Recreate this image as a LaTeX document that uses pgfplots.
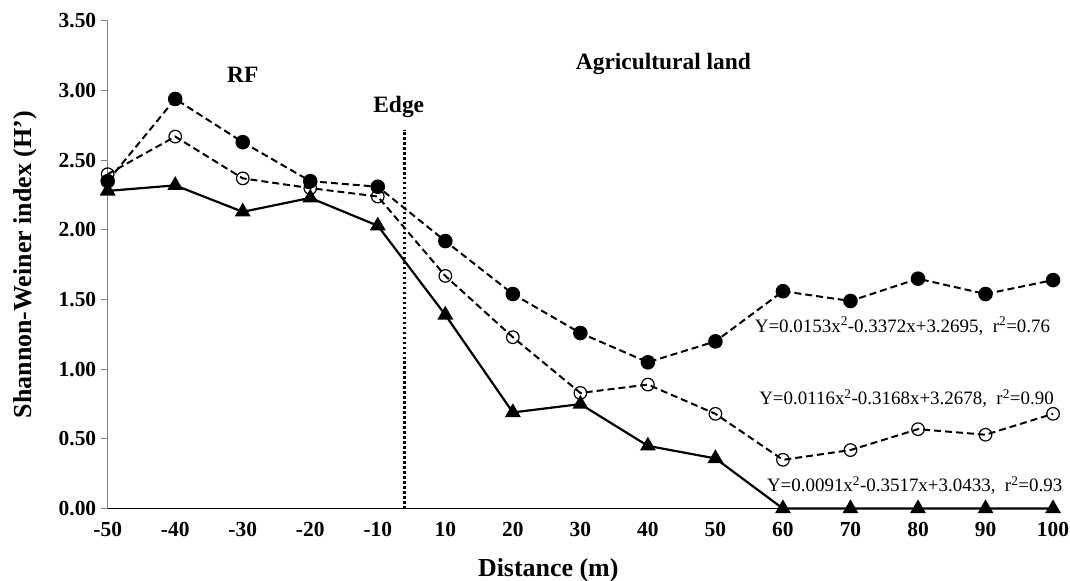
\documentclass[border=0pt]{standalone}
\usepackage{fontspec}
\setmainfont{Liberation Serif}
\usepackage{graphicx}
\usepackage{pgfplots}
\pgfplotsset{compat=1.18}
\begin{document}
\begin{tikzpicture}
\path[use as bounding box] (-108pt,-72pt) rectangle (965pt,510pt);
\begin{axis}[
  scale only axis, width=948pt, height=489pt,
  at={(0,0)}, anchor=south west,
  xmin=0, xmax=14, ymin=0, ymax=3.5,
  axis x line*=bottom, axis y line*=left,
  x axis line style={black, line width=1.3pt},
  y axis line style={gray, line width=1pt},
  xtick={0,...,14},
  xticklabels={-50,-40,-30,-20,-10,10,20,30,40,50,60,70,80,90,100},
  xtick style={draw=none},
  ytick={0,0.5,...,3.5},
  ytick style={gray, line width=1pt},
  major tick length=7pt,
  tick align=outside,
  yticklabel style={/pgf/number format/fixed, /pgf/number format/fixed zerofill, /pgf/number format/precision=2, xshift=-1pt},
  xticklabel style={yshift=-3pt},
  /pgf/number format/assume math mode=true,
  ticklabel style={font=\fontsize{21.5}{25}\selectfont\bfseries},
  xlabel={Distance (m)},
  ylabel={Shannon-Weiner index (H’)},
  label style={font=\fontsize{26}{30}\selectfont\bfseries},
  xlabel style={at={(axis description cs:0.466,-0.139)}, anchor=base},
  ylabel style={at={(axis description cs:-0.0802,0.5)}, anchor=base},
  clip=false,
]
\addplot[black, line width=2pt, dash pattern=on 7pt off 4pt, mark=*, mark size=6.3pt, mark options={solid, fill=black}]
coordinates {(0,2.35)(1,2.94)(2,2.63)(3,2.35)(4,2.31)(5,1.92)(6,1.54)(7,1.26)(8,1.05)(9,1.20)(10,1.56)(11,1.49)(12,1.65)(13,1.54)(14,1.64)};
\addplot[black, line width=2pt, dash pattern=on 7pt off 4pt, mark=o, mark size=6.3pt, mark options={solid, fill=white, line width=1.2pt}]
coordinates {(0,2.40)(1,2.67)(2,2.37)(3,2.30)(4,2.24)(5,1.67)(6,1.23)(7,0.83)(8,0.89)(9,0.68)(10,0.35)(11,0.42)(12,0.57)(13,0.53)(14,0.68)};
\addplot[black, line width=2.2pt, mark=triangle*, mark size=7pt, mark options={solid, fill=black}]
coordinates {(0,2.28)(1,2.32)(2,2.13)(3,2.23)(4,2.03)(5,1.39)(6,0.69)(7,0.75)(8,0.45)(9,0.36)(10,0)(11,0)(12,0)(13,0)(14,0)};
\addplot[black, line width=2.8pt, dash pattern=on 2.5pt off 2.5pt, mark=none]
coordinates {(4.39,0)(4.39,2.72)};
\node[font=\fontsize{23.5}{27}\selectfont\bfseries] at (axis cs:2,3.11) {RF};
\node[font=\fontsize{23.5}{27}\selectfont\bfseries] at (axis cs:8.23,3.19) {Agricultural land};
\node[font=\fontsize{23.5}{27}\selectfont\bfseries] at (axis cs:4.31,2.88) {Edge};
\node[font=\fontsize{19}{22}\selectfont] at (axis cs:11.77,1.31) {Y=0.0153x\textsuperscript{2}-0.3372x+3.2695,\ \ r\textsuperscript{2}=0.76};
\node[font=\fontsize{19}{22}\selectfont] at (axis cs:11.83,0.79) {Y=0.0116x\textsuperscript{2}-0.3168x+3.2678,\ \ r\textsuperscript{2}=0.90};
\node[font=\fontsize{19}{22}\selectfont] at (axis cs:11.95,0.165) {Y=0.0091x\textsuperscript{2}-0.3517x+3.0433,\ \ r\textsuperscript{2}=0.93};
\end{axis}
\end{tikzpicture}
\end{document}
